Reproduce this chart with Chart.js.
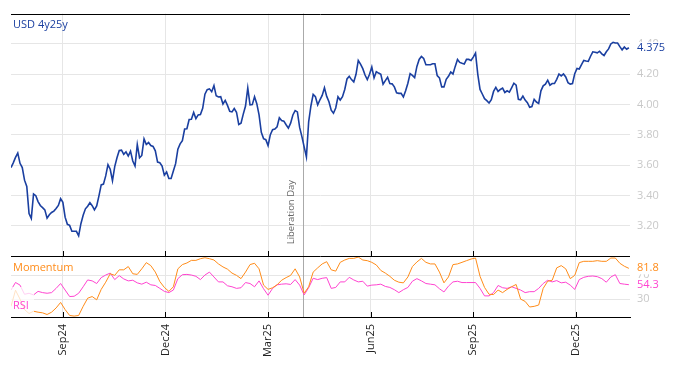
<!DOCTYPE html>
<html>
<head>
<meta charset="utf-8">
<script src="https://cdn.jsdelivr.net/npm/chart.js@4.4.1/dist/chart.umd.min.js"></script>
<style>
  html, body { margin: 0; padding: 0; background: #fff; }
  #wrap { width: 674px; height: 366px; }
</style>
</head>
<body>
<div id="wrap"><canvas id="chart" width="674" height="366"></canvas></div>
<script>
// Series start date; price sampled every 2 days, oscillators every 4 days
const startDate = '2024-07-18';
const priceStep = 2;
const oscStep = 4;

// USD 4y25y
const priceValues = [
  3.585, 3.616, 3.652, 3.680, 3.613, 3.585, 3.502, 3.461, 3.282, 3.250,
  3.411, 3.400, 3.361, 3.335, 3.321, 3.306, 3.252, 3.274, 3.289, 3.298,
  3.315, 3.335, 3.380, 3.356, 3.258, 3.211, 3.204, 3.165, 3.165, 3.165,
  3.135, 3.215, 3.271, 3.313, 3.330, 3.354, 3.334, 3.306, 3.332, 3.398,
  3.471, 3.476, 3.530, 3.604, 3.574, 3.498, 3.591, 3.650, 3.698, 3.700,
  3.672, 3.689, 3.661, 3.693, 3.628, 3.595, 3.737, 3.650, 3.665, 3.774,
  3.737, 3.750, 3.730, 3.724, 3.695, 3.621, 3.617, 3.595, 3.535, 3.556,
  3.513,
  3.513, 3.563, 3.611, 3.706, 3.741, 3.763, 3.839, 3.841, 3.902, 3.904,
  3.948, 3.908, 3.932, 3.935, 3.976, 4.069, 4.098, 4.104, 4.085, 4.125,
  4.058, 4.050, 4.052, 4.004, 4.028, 3.995, 3.956, 3.952, 3.974, 3.950,
  3.869, 3.878, 3.937, 3.991, 4.110, 3.998, 4.000, 4.052, 4.006, 3.932,
  3.817, 3.776, 3.769, 3.730, 3.802, 3.835, 3.839, 3.854, 3.913, 3.895,
  3.891, 3.867, 3.845, 3.878, 3.932, 3.961, 3.952, 3.850, 3.789, 3.721,
  3.655, 3.887, 3.991, 4.067, 4.052, 3.998, 4.032, 4.061, 4.111,
  4.054, 4.019, 3.963, 3.943, 3.978, 4.052, 4.030, 4.052, 4.100, 4.169,
  4.187, 4.165, 4.150, 4.200, 4.291, 4.267, 4.237, 4.195, 4.165, 4.200,
  4.248, 4.176, 4.217, 4.208, 4.200, 4.135, 4.158, 4.180, 4.139, 4.137,
  4.117, 4.078, 4.074, 4.074, 4.050, 4.091, 4.141, 4.204, 4.193, 4.178,
  4.252, 4.298, 4.317, 4.304, 4.263, 4.263, 4.263, 4.269, 4.269, 4.191,
  4.176, 4.117, 4.117, 4.167, 4.187, 4.215, 4.202, 4.252, 4.298, 4.278,
  4.272, 4.267, 4.298, 4.298, 4.291, 4.313, 4.340, 4.200, 4.100,
  4.070, 4.039, 4.026, 4.011, 4.032, 4.087, 4.113, 4.087, 4.100, 4.109,
  4.080, 4.091, 4.082, 4.111, 4.141, 4.128, 4.035, 4.032, 4.056, 4.030,
  4.013, 3.982, 3.987, 4.035, 4.017, 4.008, 4.091, 4.124, 4.135, 4.161,
  4.128, 4.139, 4.139, 4.167, 4.202, 4.189, 4.202, 4.182, 4.145, 4.135,
  4.139, 4.204, 4.239, 4.235, 4.263, 4.291, 4.287, 4.285, 4.319, 4.348,
  4.345, 4.341, 4.352, 4.335, 4.324, 4.348, 4.367, 4.400, 4.411, 4.406,
  4.406, 4.382, 4.361, 4.380, 4.365, 4.375
];

const momentumValues = [
  17.9, 45, 30, 12.5, 5.9, 9.7, 8.1, 7.0, 4.2, 8.1,
  15.2, 24.5, 12.5, 2.6, 1.5, 2.6, 17.9, 31.6, 34.4, 28.9,
  46.4, 58.5, 72.7, 70, 79.3, 79.3, 84.8, 72.7, 71.6, 81,
  91.4, 86.4, 75.5, 59.6, 49.7, 43.1, 50.8, 81, 88.1, 90.8,
  95.2, 95.2, 98, 99.6, 98, 95.8, 89.2, 84.2, 80.4, 73.8,
  70, 64.5, 75.5, 88.1, 90.3, 81, 53.6, 46.4, 49.2, 54.1,
  61.8, 66.2, 70, 81, 67.3, 39.9, 50.8, 75.5, 82.6, 89.2,
  93, 79.3, 77.1, 91.9, 95.8, 98.5, 98.5, 100.7, 95.8, 94.7,
  91.9, 87.5, 78.2, 73.8, 68.4, 61.8, 58.5, 57.4, 67.3, 84.8,
  92.5, 98.5, 91.9, 89.2, 89.2, 75.5, 57.4, 67.3, 88.1, 89.2,
  91.9, 94.7, 97.4, 99.1, 68.4, 49.7, 38.2, 37.7, 45.3, 41,
  46.4, 50.8, 54.7, 30, 26.2, 16.8, 17.9, 20.1, 48.1, 60.1,
  61.8, 82.6, 86.4, 81, 64.5, 70, 91.4, 93.6, 93.6, 93.6,
  94.7, 93.6, 93.6, 99.1, 99.1, 90.3, 85.3, 81.8
];

const rsiValues = [
  45.3, 58, 53.6, 38.2, 39.9, 37.1, 43.1, 41, 39.9, 41,
  48.1, 56.3, 45.3, 34.4, 34.9, 39.9, 50.8, 62.3, 60.7, 56.3,
  66.2, 70.5, 73.8, 62.9, 69.5, 64, 60.7, 61.8, 57.4, 55.2,
  58.5, 54.1, 53, 48.1, 43.1, 41, 45.3, 64.5, 71.1, 71.6,
  70.5, 68.4, 62.9, 70.5, 75.5, 67.3, 59, 59, 52.5, 50.8,
  48.1, 49.2, 57.9, 56.3, 50.8, 60.7, 47.5, 36.6, 48.1, 54.1,
  55.2, 55.8, 54.7, 62.9, 53.6, 37.1, 49.2, 65.1, 62.9, 65.1,
  66.2, 48.1, 49.7, 59, 59, 66.7, 62.3, 59, 60.1, 51.9,
  53.6, 54.1, 55.2, 51.4, 49.7, 45.9, 41, 45.9, 49.7, 60.1,
  64.5, 60.7, 56.3, 55.2, 54.1, 47.5, 42.1, 51.9, 59, 60.1,
  57.9, 57.9, 57.9, 57.9, 48.1, 35.5, 35.5, 41, 53, 49.2,
  48.1, 50.8, 48.1, 45.3, 41, 42.6, 42.6, 48.1, 56.3, 61.8,
  59, 61.2, 57.4, 58.5, 53.6, 46.4, 62.9, 66.7, 68.4, 68.9,
  67.8, 64.5, 58.5, 67.3, 71.1, 56.3, 55.2, 54.3
];

// Axis ticks
const tickDates = ['2024-09-02', '2024-12-02', '2025-03-03', '2025-06-02', '2025-09-01', '2025-12-01'];
const tickLabels = ['Sep24', 'Dec24', 'Mar25', 'Jun25', 'Sep25', 'Dec25'];
const priceTicks = [3.2, 3.4, 3.6, 3.8, 4.0, 4.2, 4.4];
const oscTicks = [30, 70];
const eventDate = '2025-04-03';
const eventLabel = 'Liberation Day';

const BLUE = '#1a3fa0';
const ORANGE = '#ff8c1a';
const MAGENTA = '#ff44d0';

function dayOf(s) {
    return Math.round((Date.parse(s) - Date.parse(startDate)) / 864e5);
}

Chart.defaults.font.family = "'Open Sans', sans-serif";
Chart.defaults.font.size = 11;

// Extra drawing: event line, panel borders, labels
const decorations = {
    id: 'decorations',
    beforeDatasetsDraw(chart) {
        const { ctx, chartArea, scales } = chart;
        const ex = Math.round(scales.x.getPixelForValue(dayOf(eventDate))) + 0.5;
        ctx.save();
        ctx.strokeStyle = '#aaaaaa';
        ctx.lineWidth = 1;
        ctx.beginPath();
        ctx.moveTo(ex, chartArea.top);
        ctx.lineTo(ex, chartArea.bottom);
        ctx.stroke();
        ctx.translate(ex - 12.5, scales.y.bottom - 12);
        ctx.rotate(-Math.PI / 2);
        ctx.fillStyle = '#666';
        ctx.font = "9.5px 'Open Sans'";
        ctx.textAlign = 'left';
        ctx.textBaseline = 'middle';
        ctx.fillText(eventLabel, 0, 0);
        ctx.restore();
    },
    afterDatasetsDraw(chart) {
        const { ctx, chartArea, scales } = chart;
        const y = scales.y, y2 = scales.y2, x = scales.x;
        ctx.save();

        // faded box behind RSI label
        ctx.fillStyle = 'rgba(255,255,255,0.75)';
        ctx.fillRect(chartArea.left, 287, 23, chartArea.bottom - 287);

        ctx.font = "11px 'Open Sans'";
        ctx.textAlign = 'left';
        ctx.textBaseline = 'middle';
        ctx.fillStyle = BLUE;
        ctx.fillText('USD 4y25y', 13, 25);
        ctx.fillStyle = ORANGE;
        ctx.fillText('Momentum', 13, 268);
        ctx.fillStyle = MAGENTA;
        ctx.fillText('RSI', 13, 306);

        // last-value labels on the right
        const lastLabels = [
            [priceValues[priceValues.length - 1].toFixed(3), y.getPixelForValue(priceValues[priceValues.length - 1]), BLUE],
            [momentumValues[momentumValues.length - 1].toFixed(1), y2.getPixelForValue(momentumValues[momentumValues.length - 1]), ORANGE],
            [rsiValues[rsiValues.length - 1].toFixed(1), y2.getPixelForValue(rsiValues[rsiValues.length - 1]), MAGENTA]
        ];
        lastLabels.forEach(([txt, py, col]) => {
            ctx.fillStyle = '#fff';
            ctx.fillRect(chartArea.right + 3, py - 6, 40, 12);
            ctx.fillStyle = col;
            ctx.fillText(txt, chartArea.right + 7, py);
        });

        // black panel borders with inner tick marks
        ctx.strokeStyle = '#000';
        ctx.lineWidth = 1;
        const lines = [chartArea.top, y.bottom, chartArea.bottom];
        ctx.beginPath();
        lines.forEach(ly => {
            const yy = Math.round(ly) + 0.5;
            ctx.moveTo(chartArea.left, yy);
            ctx.lineTo(chartArea.right, yy);
        });
        [y.bottom, chartArea.bottom].forEach(ly => {
            const yy = Math.round(ly);
            x.ticks.forEach(t => {
                const tx = Math.round(x.getPixelForValue(t.value)) + 0.5;
                ctx.moveTo(tx, yy);
                ctx.lineTo(tx, yy - 5);
            });
        });
        ctx.stroke();
        ctx.restore();
    }
};

const ctx = document.getElementById('chart').getContext('2d');
new Chart(ctx, {
    type: 'line',
    data: {
        datasets: [
            {
                label: 'USD 4y25y',
                data: priceValues.map((v, i) => ({ x: i * priceStep, y: v })),
                yAxisID: 'y',
                borderColor: BLUE,
                borderWidth: 1.6,
                pointRadius: 0,
                tension: 0
            },
            {
                label: 'Momentum',
                data: momentumValues.map((v, i) => ({ x: i * oscStep, y: v })),
                yAxisID: 'y2',
                borderColor: ORANGE,
                borderWidth: 1,
                pointRadius: 0,
                tension: 0
            },
            {
                label: 'RSI',
                data: rsiValues.map((v, i) => ({ x: i * oscStep, y: v })),
                yAxisID: 'y2',
                borderColor: MAGENTA,
                borderWidth: 1,
                pointRadius: 0,
                tension: 0
            }
        ]
    },
    options: {
        responsive: false,
        animation: false,
        layout: { padding: { left: 11, top: 9, right: 0, bottom: 0 } },
        plugins: {
            legend: { display: false },
            tooltip: { enabled: false }
        },
        scales: {
            x: {
                type: 'linear',
                min: 0,
                max: 549,
                afterBuildTicks: s => { s.ticks = tickDates.map(d => ({ value: dayOf(d) })); },
                afterFit: s => { s.height = 49; },
                ticks: {
                    autoSkip: false,
                    minRotation: 90,
                    maxRotation: 90,
                    padding: 7,
                    color: '#222',
                    callback: (v, i) => tickLabels[i]
                },
                grid: { color: '#e6e6e6', drawTicks: false },
                border: { display: true, color: '#000' }
            },
            y: {
                position: 'right',
                stack: 'panels',
                stackWeight: 4,
                min: 3.0,
                max: 4.6,
                afterBuildTicks: s => { s.ticks = priceTicks.map(v => ({ value: v })); },
                afterFit: s => { s.width = 44; },
                ticks: { color: '#c8c8c8', padding: 7, callback: v => v.toFixed(2) },
                grid: { color: '#e6e6e6', drawTicks: false },
                border: { display: false }
            },
            y2: {
                position: 'right',
                stack: 'panels',
                stackWeight: 1,
                min: 0,
                max: 102,
                afterBuildTicks: s => { s.ticks = oscTicks.map(v => ({ value: v })); },
                afterFit: s => { s.width = 44; },
                ticks: { color: '#c8c8c8', padding: 7 },
                grid: { color: '#e6e6e6', drawTicks: false },
                border: { display: false }
            }
        }
    },
    plugins: [decorations]
});
</script>
</body>
</html>
